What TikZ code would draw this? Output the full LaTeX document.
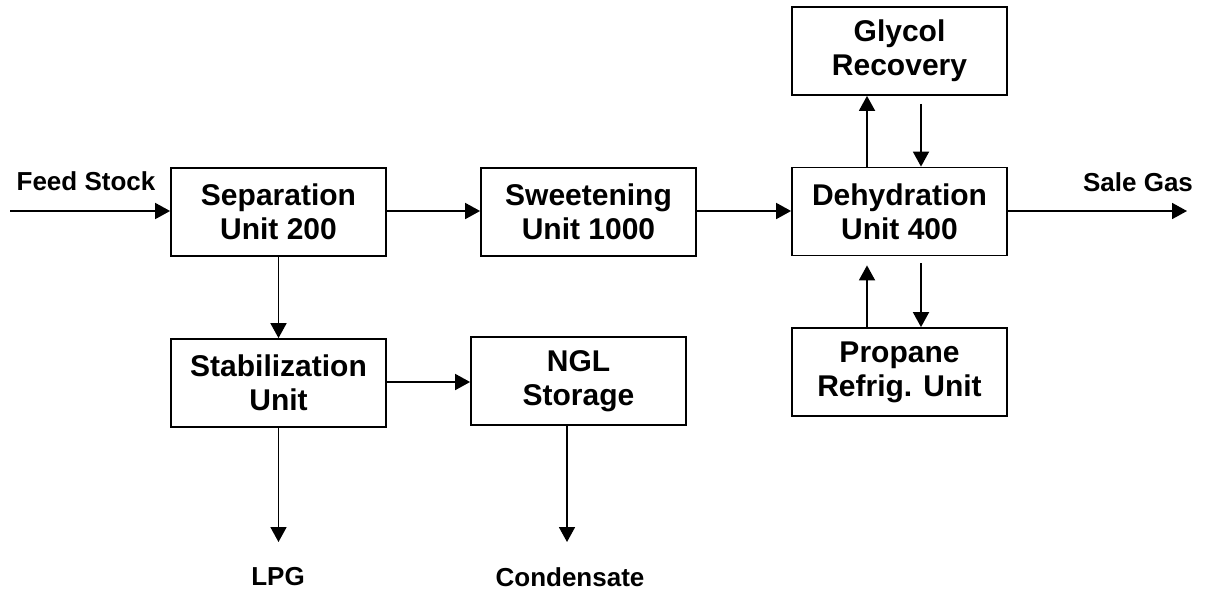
\documentclass[tikz,border=0pt]{standalone}
\usepackage{fontspec}
\setmainfont{Liberation Sans}
\usetikzlibrary{arrows.meta}
\begin{document}
\begin{tikzpicture}[x=1pt,y=-1pt,
  unitbox/.style={draw,line width=1.8pt,minimum width=215pt,minimum height=88pt,inner sep=0pt,align=center,font=\fontsize{30}{34.3}\selectfont\bfseries},
  lbl/.style={inner sep=0pt,font=\fontsize{26}{30}\selectfont\bfseries},
  arr/.style={line width=1.8pt,-{Triangle[length=15pt,width=16pt]}}]
\useasboundingbox (0,0) rectangle (1206,595);
\node[unitbox] (sep) at (278.5,212) {Separation\\Unit 200};
\node[unitbox] (sweet) at (588.5,212) {Sweetening\\Unit 1000};
\node[unitbox] (dehy) at (899.5,211.5) {Dehydration\\Unit 400};
\node[unitbox] (gly) at (899.5,51) {Glycol\\Recovery};
\node[unitbox] (prop) at (899.5,372) {Propane\\Refrig. Unit};
\node[unitbox] (stab) at (278.5,383) {Stabilization\\Unit};
\node[unitbox] (ngl) at (578.5,381) {NGL\\Storage};
\node[lbl] (feed) at (86,181) {Feed Stock};
\node[lbl] (sale) at (1138,182) {Sale Gas};
\node[lbl] (lpg) at (278,577) {LPG};
\node[lbl] (cond) at (570,577) {Condensate};
\coordinate (fin) at (10,211);
\coordinate (sout) at (1187,211);
\coordinate (cL) at (867,0);
\coordinate (cR) at (921,0);
\coordinate (lpgend) at (278.5,542);
\coordinate (condend) at (567,542);
\draw[arr] (fin) -- (fin -| sep.west);
\draw[arr] (sep.east |- fin) -- (sweet.west |- fin);
\draw[arr] (sweet.east |- fin) -- (dehy.west |- fin);
\draw[arr] (dehy.east |- sout) -- (sout);
\draw[arr] (dehy.north -| cL) -- (gly.south -| cL);
\draw[arr] ([yshift=-8pt]gly.south -| cR) -- (dehy.north -| cR);
\draw[arr] (prop.north -| cL) -- ([yshift=-9pt]dehy.south -| cL);
\draw[arr] ([yshift=-7pt]dehy.south -| cR) -- (prop.north -| cR);
\draw[arr] (sep.south) -- (stab.north);
\draw[arr] (stab.east |- 0,382) -- (ngl.west |- 0,382);
\draw[arr] (stab.south -| lpgend) -- (lpgend);
\draw[arr] (ngl.south -| condend) -- (condend);
\end{tikzpicture}
\end{document}
